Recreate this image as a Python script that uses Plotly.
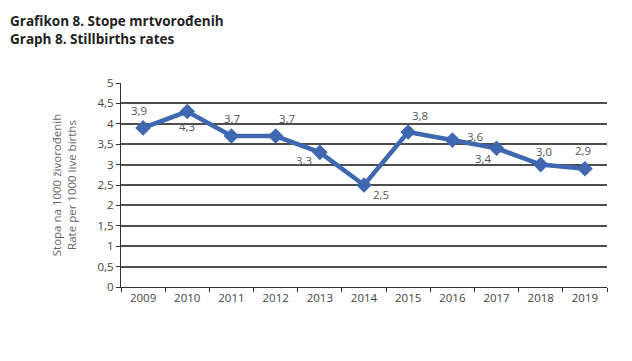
import plotly.graph_objects as go

years = ["2009", "2010", "2011", "2012", "2013", "2014", "2015", "2016", "2017", "2018", "2019"]
rates = [3.9, 4.3, 3.7, 3.7, 3.3, 2.5, 3.8, 3.6, 3.4, 3.0, 2.9]
labels = ["3,9", "4,3", "3,7", "3,7", "3,3", "2,5", "3,8", "3,6", "3,4", "3,0", "2,9"]
y_ticks = [0, 0.5, 1, 1.5, 2, 2.5, 3, 3.5, 4, 4.5, 5]
y_ticklabels = ["0", "0,5", "1", "1,5", "2", "2,5", "3", "3,5", "4", "4,5", "5"]

# label offsets (pixels) relative to each point
label_dx = [-4, 0, 1, 11, -16, 17, 12, 23, -13, 3, -2]
label_dy = [17, -15, 18, 18, -8, -9, 16, 4, -10, 13, 18]

fig = go.Figure()
fig.add_trace(go.Scatter(
    x=years, y=rates, mode="lines+markers",
    line=dict(color="#4068b0", width=4.5),
    marker=dict(symbol="diamond", size=12, color="#4068b0"),
    cliponaxis=False,
))

for i, (v, t, dx, dy) in enumerate(zip(rates, labels, label_dx, label_dy)):
    fig.add_annotation(x=i, y=v, xref="x", yref="y", text=t, showarrow=False,
                       xshift=dx, yshift=dy,
                       font=dict(family="Open Sans", size=11.5, color="#555555"))

fig.update_layout(
    width=632, height=361,
    margin=dict(l=113, r=33, t=75, b=82),
    paper_bgcolor="white", plot_bgcolor="white",
    showlegend=False,
    font=dict(family="Open Sans", size=11, color="#444444"),
    xaxis=dict(
        type="category", tickson="boundaries", ticks="outside", ticklen=4,
        range=[-0.5, len(years) - 0.5],
        tickcolor="#333333", showline=True, linecolor="#333333", linewidth=1,
        showgrid=False, tickfont=dict(size=11.5, color="#444444"), automargin=False,
    ),
    yaxis=dict(
        range=[0, 5], tickvals=y_ticks, ticktext=y_ticklabels,
        ticks="outside", ticklen=4, tickcolor="#333333",
        showline=True, linecolor="#333333", linewidth=1,
        showgrid=True, gridcolor="#4d4d4d", gridwidth=1.6,
        zeroline=False, tickfont=dict(size=11.5, color="#444444"), automargin=False,
        title=dict(text="Stopa na 1000 živorođenih<br>Rate per 1000 live births",
                   font=dict(size=11.5, color="#666666"), standoff=18),
    ),
)

fig.add_annotation(
    text="<b>Grafikon 8. Stope mrtvorođenih</b><br><b>Graph 8. Stillbirths rates</b>",
    xref="paper", yref="paper", x=-113/486, y=1 + 73/204, xanchor="left", yanchor="top",
    align="left", showarrow=False,
    font=dict(family="Open Sans", size=13.5, color="#222222"),
)

fig.write_html("out.html")
